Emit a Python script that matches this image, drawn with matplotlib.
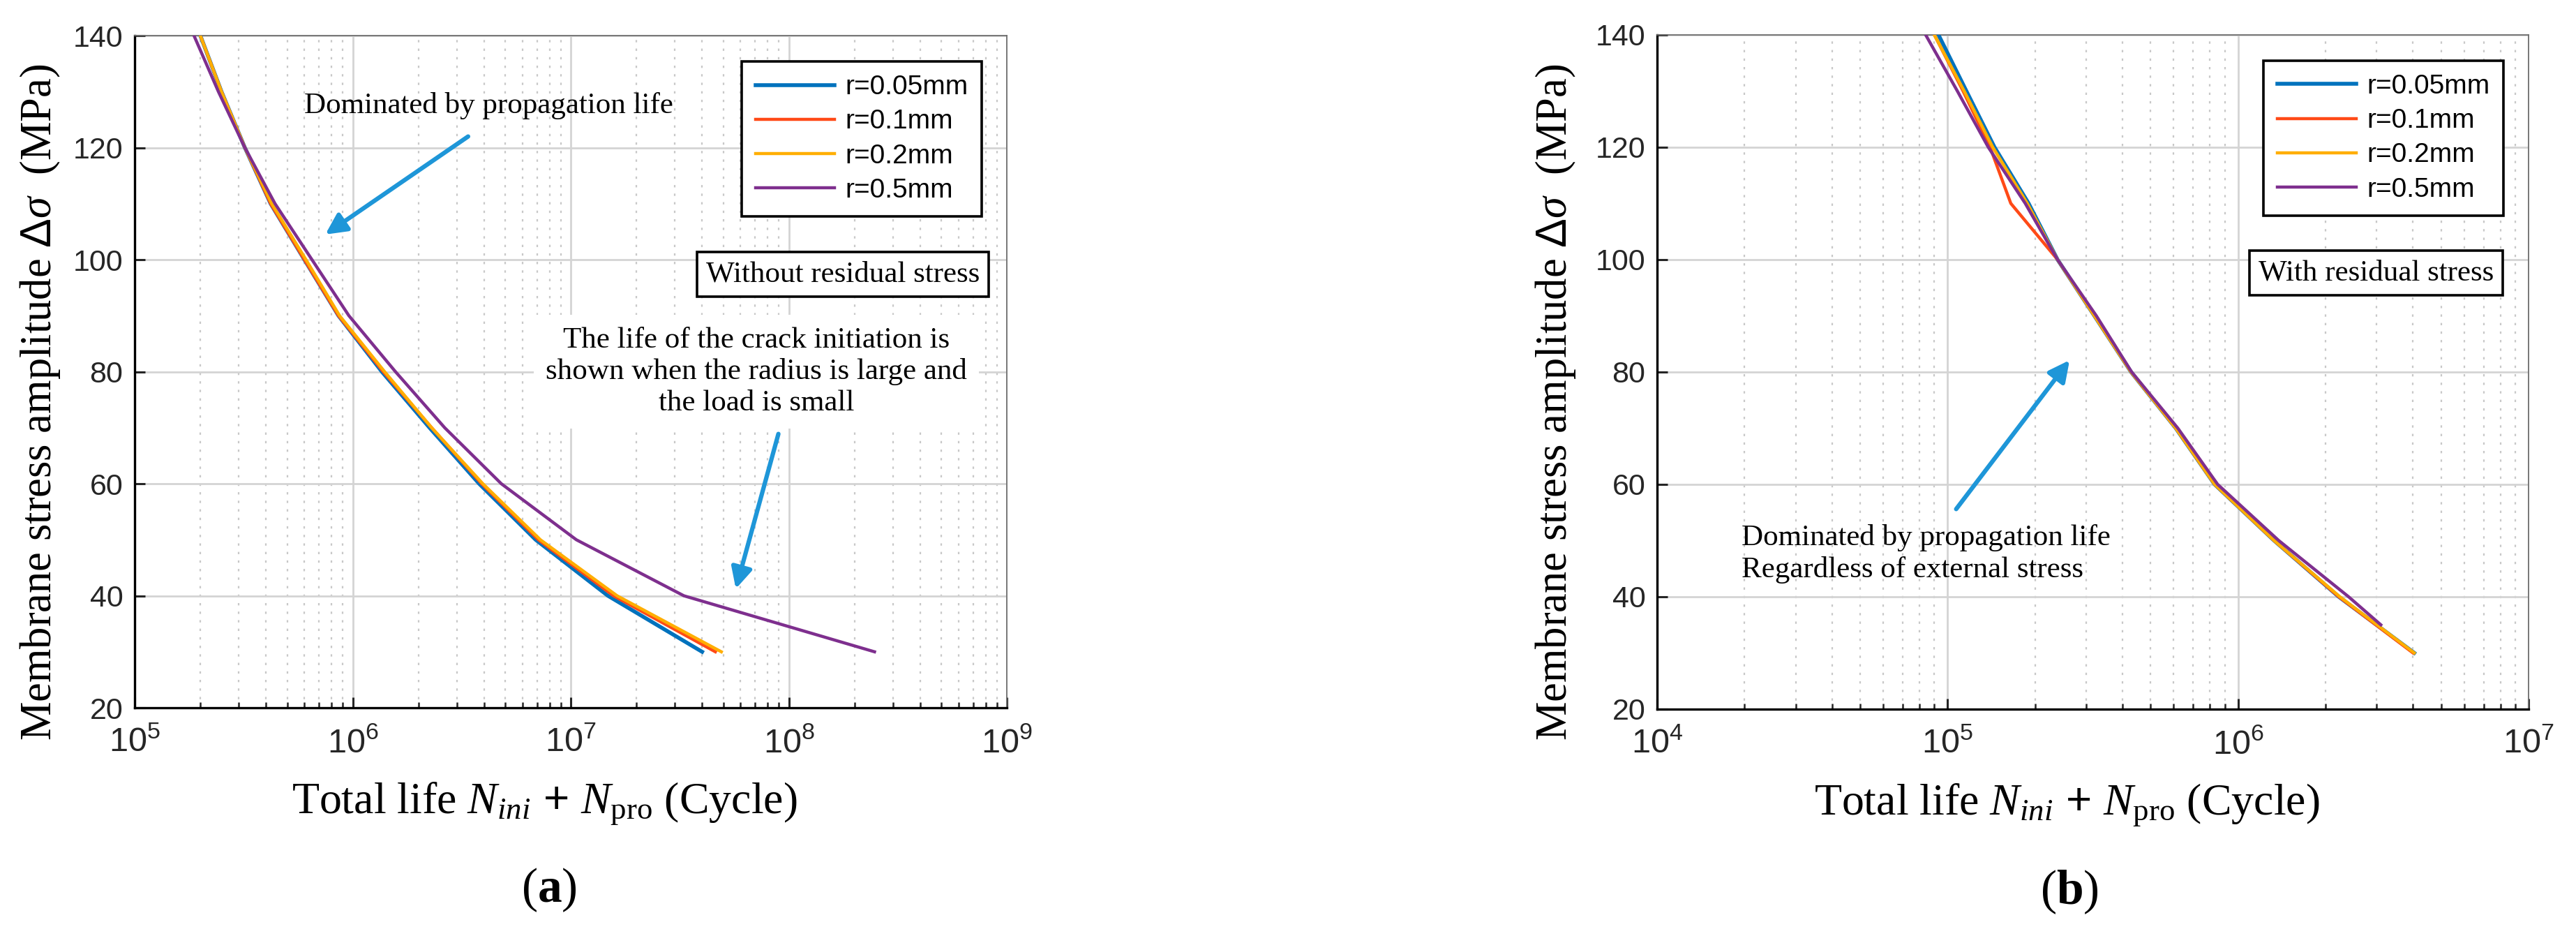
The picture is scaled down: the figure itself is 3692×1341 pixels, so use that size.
import matplotlib
matplotlib.use('Agg')
import matplotlib.pyplot as plt
from matplotlib.ticker import LogLocator, NullFormatter

plt.rcParams['mathtext.fontset'] = 'custom'
plt.rcParams['mathtext.rm'] = 'Liberation Sans'
plt.rcParams['mathtext.it'] = 'Liberation Serif:italic'
plt.rcParams['mathtext.sf'] = 'Liberation Serif'
plt.rcParams['mathtext.bf'] = 'Liberation Serif:bold'

# ---- data (stress levels in MPa, life in cycles) ----
stress = [140, 130, 120, 110, 100, 90, 80, 70, 60, 50, 40, 30]

# (a) without residual stress
a_r005 = [2.0e5, 2.5e5, 3.2e5, 4.2e5, 6.0e5, 8.6e5, 1.36e6, 2.25e6, 3.8e6, 6.9e6, 1.48e7, 4.0e7]
a_r01 = [2.0e5, 2.5e5, 3.2e5, 4.2e5, 6.0e5, 8.6e5, 1.38e6, 2.3e6, 3.9e6, 7.1e6, 1.57e7, 4.6e7]
a_r02 = [2.0e5, 2.5e5, 3.2e5, 4.25e5, 6.1e5, 8.7e5, 1.4e6, 2.3e6, 3.95e6, 7.25e6, 1.63e7, 4.9e7]
a_r05 = [1.87e5, 2.42e5, 3.2e5, 4.4e5, 6.5e5, 9.6e5, 1.57e6, 2.64e6, 4.8e6, 1.06e7, 3.3e7, 2.47e8]

# (b) with residual stress
stress_b05 = [140, 130, 120, 110, 100, 90, 80, 70, 60, 50, 40, 35]
b_r005 = [9.3e4, 1.16e5, 1.45e5, 1.9e5, 2.39e5, 3.2e5, 4.28e5, 6.1e5, 8.3e5, 1.33e6, 2.22e6, 4.04e6]
b_r01 = [9.0e4, 1.13e5, 1.40e5, 1.65e5, 2.39e5, 3.2e5, 4.28e5, 6.1e5, 8.3e5, 1.33e6, 2.22e6, 4.0e6]
b_r02 = [9.0e4, 1.14e5, 1.43e5, 1.88e5, 2.39e5, 3.2e5, 4.28e5, 6.1e5, 8.3e5, 1.33e6, 2.24e6, 4.04e6]
b_r05 = [8.4e4, 1.08e5, 1.38e5, 1.85e5, 2.39e5, 3.25e5, 4.3e5, 6.2e5, 8.5e5, 1.38e6, 2.4e6, 3.1e6]

labels = ['r=0.05mm', 'r=0.1mm', 'r=0.2mm', 'r=0.5mm']
colors = ['#0072BD', '#FF4A17', '#FFAE00', '#7E2F8E']
widths = [4.0, 3.2, 3.2, 3.2]
arrow_c = '#1E96D8'

fig = plt.figure(figsize=(36.92, 13.41), dpi=100)
fig.patch.set_facecolor('white')
ax1 = fig.add_axes([0.0523, 0.2438, 0.3386, 0.7181])
ax2 = fig.add_axes([0.6433, 0.2424, 0.3383, 0.7204])


def style_axes(ax, xlim):
    ax.set_xscale('log')
    ax.set_xlim(*xlim)
    ax.set_ylim(20, 140)
    ax.set_yticks(range(20, 141, 20))
    ax.xaxis.set_major_locator(LogLocator(base=10, numticks=20))
    ax.xaxis.set_minor_locator(LogLocator(base=10, subs=range(2, 10), numticks=50))
    ax.xaxis.set_minor_formatter(NullFormatter())
    ax.grid(True, which='major', color='#d4d4d4', lw=2.0, ls='-', zorder=0)
    ax.grid(True, which='minor', axis='x', color='#c8c8c8', lw=1.6, ls=(0, (1.5, 4)), zorder=0)
    ax.set_axisbelow(True)
    for s in ['left', 'bottom']:
        ax.spines[s].set_color('black')
        ax.spines[s].set_linewidth(2.4)
    for s in ['top', 'right']:
        ax.spines[s].set_color('#6e6e6e')
        ax.spines[s].set_linewidth(1.3)
    ax.tick_params(which='major', direction='in', length=11, width=2.2, colors='#262626',
                   labelsize=31, top=False, right=False)
    ax.tick_params(which='minor', direction='in', length=6, width=1.8, colors='#262626',
                   top=False, right=False)
    ax.tick_params(axis='x', which='major', pad=20, labelsize=35)
    ax.tick_params(axis='y', which='major', pad=12)
    for t in ax.get_yticklabels() + ax.get_xticklabels():
        t.set_fontfamily('Liberation Sans')
    ax.set_ylabel(r'Membrane stress amplitude $\Delta\sigma$  (MPa)', fontsize=45,
                  fontfamily='Liberation Serif')
    ax.set_xlabel(r'Total life $N_{ini}\,+\,N_{\mathsf{pro}}$ (Cycle)', fontsize=46,
                  fontfamily='Liberation Serif')
    ax.xaxis.set_label_coords(0.47, -0.108)


def add_legend(ax):
    leg = ax.legend(loc='upper right', bbox_to_anchor=(0.971, 0.962), fontsize=28,
                    frameon=True, fancybox=False, framealpha=1, edgecolor='black',
                    handlelength=2.9, handletextpad=0.4, labelspacing=0.34,
                    borderpad=0.5, borderaxespad=0)
    leg.get_frame().set_linewidth(2.6)
    for t in leg.get_texts():
        t.set_fontfamily('Liberation Sans')
    return leg


def blue_arrow(ax, tail, head):
    ax.annotate('', xy=head, xytext=tail,
                arrowprops=dict(arrowstyle='-|>', color=arrow_c, lw=4.5, mutation_scale=45,
                                shrinkA=0, shrinkB=0), zorder=5)


# ---- (a) ----
style_axes(ax1, (1e5, 1e9))
for ys, c, lw, lab in zip([a_r005, a_r01, a_r02, a_r05], colors, widths, labels):
    ax1.plot(ys, stress, color=c, lw=lw, label=lab, zorder=3)
ax1.yaxis.set_label_coords(-0.083, 0.455)
add_legend(ax1)

ax1.text(0.812, 0.645, 'Without residual stress', transform=ax1.transAxes, fontsize=31,
         fontfamily='Liberation Serif', ha='center', va='center', zorder=5,
         bbox=dict(boxstyle='square,pad=0.3', fc='white', ec='black', lw=2.6))
ax1.text(4.2e6, 127.5, 'Dominated by propagation life', fontsize=31,
         fontfamily='Liberation Serif', ha='center', va='center')
blue_arrow(ax1, (3.38e6, 122.0), (7.48e5, 104.5))
ax1.text(7.08e7, 80.0, 'The life of the crack initiation is\nshown when the radius is large and\n'
         'the load is small', fontsize=31, fontfamily='Liberation Serif', ha='center',
         va='center', linespacing=1.2, zorder=4,
         bbox=dict(boxstyle='square,pad=0.4', fc='white', ec='none'))
blue_arrow(ax1, (8.95e7, 68.9), (5.71e7, 41.25))
ax1.text(0.475, -0.271, r'($\mathbf{a}$)', transform=ax1.transAxes, fontsize=50,
         fontfamily='Liberation Serif', ha='center', va='center')

# ---- (b) ----
style_axes(ax2, (1e4, 1e7))
b_sets = [(b_r005, stress), (b_r01, stress), (b_r02, stress), (b_r05, stress_b05)]
for (xs, ys), c, lw, lab in zip(b_sets, colors, widths, labels):
    ax2.plot(xs, ys, color=c, lw=lw, label=lab, zorder=3)
ax2.yaxis.set_label_coords(-0.091, 0.455)
add_legend(ax2)

ax2.text(0.825, 0.647, 'With residual stress', transform=ax2.transAxes, fontsize=31,
         fontfamily='Liberation Serif', ha='center', va='center', zorder=5,
         bbox=dict(boxstyle='square,pad=0.3', fc='white', ec='black', lw=2.6))
blue_arrow(ax2, (1.07e5, 55.6), (2.63e5, 82.1))
ax2.text(1.95e4, 47.6, 'Dominated by propagation life\nRegardless of external stress',
         fontsize=31, fontfamily='Liberation Serif', ha='left', va='center', linespacing=1.25)
ax2.text(0.473, -0.271, r'($\mathbf{b}$)', transform=ax2.transAxes, fontsize=50,
         fontfamily='Liberation Serif', ha='center', va='center')

fig.savefig('out.png', dpi=100, facecolor='white')
